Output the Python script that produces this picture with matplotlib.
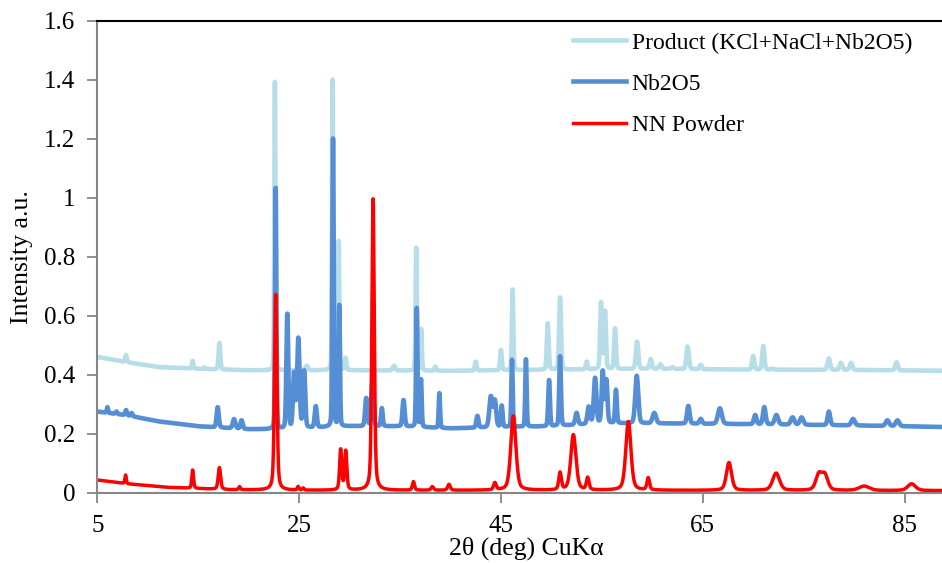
import numpy as np
import matplotlib.pyplot as plt

plt.rcParams['font.family'] = ['Liberation Serif', 'DejaVu Serif']

# x grid of the scan (2 theta, deg)
two_theta = np.arange(5, 90.001, 0.02)

# baselines: (2theta, intensity)
product_base_x = [5, 8, 11, 15, 20, 30, 40, 50, 60, 70, 80, 90]
product_base_y = [0.46, 0.442, 0.426, 0.42, 0.415, 0.415, 0.413, 0.417, 0.42, 0.417, 0.416, 0.413]
nb2o5_base_x = [5, 8, 11, 15, 20, 23, 30, 35, 40, 45, 50, 55, 60, 70, 80, 90]
nb2o5_base_y = [0.275, 0.262, 0.242, 0.225, 0.215, 0.215, 0.225, 0.225, 0.218, 0.222, 0.225,
                0.235, 0.235, 0.232, 0.228, 0.222]
nn_base_x = [5, 8, 12, 18, 25, 40, 60, 90]
nn_base_y = [0.043, 0.03, 0.018, 0.01, 0.008, 0.008, 0.008, 0.007]

# peaks: position, top value, width (FWHM)
product_pos = [7.85, 14.45, 15.6, 17.1, 22.6, 25.75, 28.32, 28.92, 29.6, 34.4, 36.6, 37.1, 38.5,
               42.5, 45.0, 46.16, 49.64, 50.86, 53.5, 54.92, 55.32, 56.31, 58.49, 59.85, 60.8,
               62.0, 63.5, 64.8, 70.0, 71.0, 71.9, 77.5, 78.7, 79.7, 84.2]
product_top = [0.467, 0.447, 0.425, 0.508, 1.393, 0.43, 1.399, 0.851, 0.456, 0.43, 0.83, 0.553, 0.427,
               0.444, 0.484, 0.689, 0.574, 0.662, 0.444, 0.644, 0.614, 0.557, 0.512, 0.453, 0.435,
               0.425, 0.495, 0.433, 0.463, 0.497, 0.42, 0.455, 0.44, 0.44, 0.442]
product_wid = [0.2, 0.15, 0.15, 0.2, 0.13, 0.3, 0.13, 0.15, 0.2, 0.3, 0.15, 0.15, 0.2,
               0.2, 0.2, 0.16, 0.22, 0.22, 0.2, 0.22, 0.22, 0.22, 0.28, 0.25, 0.3,
               0.3, 0.28, 0.25, 0.25, 0.25, 0.3, 0.3, 0.3, 0.3, 0.3]

nb2o5_pos = [6.0, 6.9, 7.85, 8.4, 16.93, 18.55, 19.3, 22.68, 23.83, 24.5, 24.92, 25.5, 26.65,
             28.36, 28.98, 31.65, 32.25, 33.2, 35.35, 36.66, 37.08, 38.9, 42.67, 44.0, 44.4,
             45.08, 46.1, 47.48, 49.77, 50.86, 52.5, 53.7, 54.33, 55.09, 55.45, 56.4, 58.46,
             60.2, 63.57, 64.8, 66.7, 70.2, 71.1, 72.3, 73.9, 74.8, 77.5, 79.9, 83.3, 84.3]
nb2o5_top = [0.29, 0.275, 0.28, 0.27, 0.29, 0.249, 0.245, 1.032, 0.606, 0.40, 0.52, 0.41, 0.292,
             1.199, 0.633, 0.32, 0.371, 0.286, 0.314, 0.625, 0.382, 0.337, 0.26, 0.325, 0.31,
             0.294, 0.45, 0.452, 0.382, 0.462, 0.27, 0.29, 0.388, 0.41, 0.38, 0.348, 0.396,
             0.27, 0.294, 0.25, 0.286, 0.263, 0.29, 0.263, 0.255, 0.255, 0.275, 0.25, 0.245, 0.245]
nb2o5_wid = [0.15, 0.2, 0.2, 0.2, 0.25, 0.3, 0.25, 0.15, 0.22, 0.25, 0.28, 0.25, 0.25,
             0.16, 0.16, 0.25, 0.25, 0.2, 0.25, 0.16, 0.16, 0.16, 0.25, 0.35, 0.3,
             0.2, 0.16, 0.16, 0.2, 0.2, 0.3, 0.3, 0.3, 0.25, 0.25, 0.2, 0.35,
             0.4, 0.3, 0.3, 0.45, 0.3, 0.3, 0.4, 0.4, 0.4, 0.3, 0.4, 0.4, 0.4]

nn_pos = [7.8, 14.45, 17.1, 19.1, 22.68, 24.9, 25.4, 29.12, 29.62, 32.33, 36.33, 38.2, 39.85,
          44.4, 46.23, 50.86, 52.18, 53.6, 57.63, 59.6, 67.6, 72.27, 76.5, 77.1, 81.0, 85.7]
nn_top = [0.06, 0.077, 0.085, 0.02, 0.672, 0.02, 0.015, 0.145, 0.14, 1.0, 0.037, 0.02, 0.028,
          0.032, 0.26, 0.066, 0.196, 0.049, 0.241, 0.049, 0.102, 0.066, 0.06, 0.058, 0.022, 0.03]
nn_wid = [0.15, 0.2, 0.28, 0.2, 0.28, 0.2, 0.2, 0.25, 0.25, 0.28, 0.25, 0.3, 0.3,
          0.3, 0.6, 0.3, 0.6, 0.3, 0.6, 0.3, 0.6, 0.8, 0.7, 0.7, 1.2, 0.9]


def pattern(base_x, base_y, pos, top, wid, eta):
    base = np.interp(two_theta, base_x, base_y)
    y = base.copy()
    for p, t, w in zip(pos, top, wid):
        amp = t - np.interp(p, base_x, base_y)
        d = (two_theta - p) / (w / 2)
        y += amp * (eta / (1 + d ** 2) + (1 - eta) * np.exp(-np.log(2) * d ** 2))
    return y


product = pattern(product_base_x, product_base_y, product_pos, product_top, product_wid, 0.2)
nb2o5 = pattern(nb2o5_base_x, nb2o5_base_y, nb2o5_pos, nb2o5_top, nb2o5_wid, 0.2)
nn = pattern(nn_base_x, nn_base_y, nn_pos, nn_top, nn_wid, 0.4)

fig = plt.figure(figsize=(9.42, 5.63), dpi=100)
ax = fig.add_axes([0.1033, 0.1249, 0.9105, 0.8383])

ax.plot(two_theta, product, color='#B7DEE8', lw=3.3, label='Product (KCl+NaCl+Nb2O5)')
ax.plot(two_theta, nb2o5, color='#558ED5', lw=3.3, label='Nb2O5')
ax.plot(two_theta, nn, color='#FF0000', lw=2.5, label='NN Powder')

ax.set_xlim(5, 90)
ax.set_ylim(0, 1.6)
ax.set_xticks([5, 25, 45, 65, 85])
yt = np.arange(0, 1.61, 0.2)
ax.set_yticks(yt)
ax.set_yticklabels([f'{v:g}' for v in np.round(yt, 1)])
ax.tick_params(axis='both', labelsize=18, length=7, width=1.3, color='#868686', pad=9)

for s in ['left', 'bottom']:
    ax.spines[s].set_color('#868686')
    ax.spines[s].set_linewidth(1.5)
ax.spines['top'].set_color('black')
ax.spines['top'].set_linewidth(1.5)
ax.spines['right'].set_visible(False)

ax.set_xlabel('2θ (deg) CuKα', fontsize=18.5, labelpad=0)
ax.set_ylabel('Intensity a.u.', fontsize=18.5, labelpad=8)

fig.legend(loc='upper left', bbox_to_anchor=(0.608, 0.943), frameon=False, fontsize=17,
           handlelength=2.25, handletextpad=0.25, labelspacing=0.83, borderpad=0, borderaxespad=0)

fig.savefig('out.png', dpi=100)
